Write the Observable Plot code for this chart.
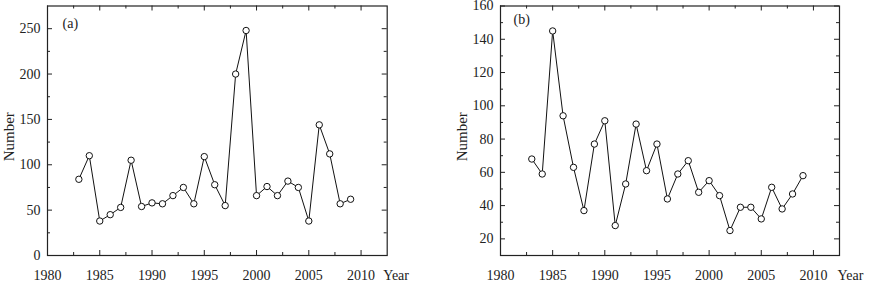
<!DOCTYPE html>
<html><head><meta charset="utf-8">
<script src="https://cdn.jsdelivr.net/npm/d3@7"></script>
<script src="https://cdn.jsdelivr.net/npm/@observablehq/plot@0.6"></script>
<style>
body{margin:0;background:#fff}
#wrap{display:flex;width:873px;height:288px}
svg{overflow:visible}
</style>
</head><body><div id="wrap"></div>
<script>
const years = [1983,1984,1985,1986,1987,1988,1989,1990,1991,1992,1993,1994,1995,1996,1997,1998,1999,2000,2001,2002,2003,2004,2005,2006,2007,2008,2009];
const valuesA = [84,110,38,45,53,105,54,58,57,66,75,57,109,78,55,200,248,66,76,66,82,75,38,144,112,57,62];
const valuesB = [68,59,145,94,63,37,77,91,28,53,89,61,77,44,59,67,48,55,46,25,39,39,32,51,38,47,58];
const xMajor = [1980,1985,1990,1995,2000,2005,2010];
const xMinor = [1982.5,1987.5,1992.5,1997.5,2002.5,2007.5];
const xDomain = [1980,2012.5];
const yMajorA = [0,50,100,150,200,250];
const yMinorA = [25,75,125,175,225];
const yDomainA = [0,275];
const yMajorB = [20,40,60,80,100,120,140,160];
const yMinorB = [10,30,50,70,90,110,130,150];
const yDomainB = [10,160];

const FONT = "'Liberation Serif','Times New Roman',serif";
const INK = "#222";

function panel(o){
  const h = 288, mt = 5.5, mb = 33;
  const ph = h - mt - mb, pw = o.w - o.ml - o.mr;
  const data = years.map((yr,i)=>({year: yr, value: o.values[i]}));
  const maj = 5, min = 3;
  return Plot.plot({
    width: o.w, height: h, marginLeft: o.ml, marginRight: o.mr, marginTop: mt, marginBottom: mb,
    style: {fontFamily: FONT, fontSize: "14px", color: INK, background: "transparent", overflow: "visible"},
    x: {domain: xDomain, label: null},
    y: {domain: o.yDomain, label: null},
    marks: [
      Plot.axisX(xMajor, {tickSize: 0, tickPadding: 15, tickFormat: d => String(d), fontSize: 14, label: null}),
      Plot.axisY(o.yMajor, {tickSize: 0, tickPadding: 7, tickFormat: d => String(d), fontSize: 14, label: null}),
      // bottom ticks (inward)
      Plot.tickX(xMajor, {x: d => d, insetTop: ph - maj, stroke: INK}),
      Plot.tickX(xMinor, {x: d => d, insetTop: ph - min, stroke: INK}),
      // top ticks (inward)
      Plot.tickX(xMajor, {x: d => d, insetBottom: ph - maj, stroke: INK}),
      Plot.tickX(xMinor, {x: d => d, insetBottom: ph - min, stroke: INK}),
      // left ticks
      Plot.tickY(o.yMajor, {y: d => d, insetRight: pw - maj, stroke: INK}),
      Plot.tickY(o.yMinor, {y: d => d, insetRight: pw - min, stroke: INK}),
      // right ticks
      Plot.tickY(o.yMajor, {y: d => d, insetLeft: pw - maj, stroke: INK}),
      Plot.tickY(o.yMinor, {y: d => d, insetLeft: pw - min, stroke: INK}),
      Plot.frame({stroke: INK, strokeWidth: 1.2}),
      Plot.line(data, {x: "year", y: "value", stroke: "#111", strokeWidth: 1}),
      Plot.dot(data, {x: "year", y: "value", r: 3.2, stroke: "#111", fill: "white", strokeWidth: 1}),
      Plot.text([o.tag], {text: d => d, frameAnchor: "top-left", textAnchor: "start", lineAnchor: "middle", dx: o.tagDx, dy: o.tagDy, fontSize: 14, fill: INK}),
      Plot.text(["Number"], {text: d => d, frameAnchor: "left", rotate: -90, textAnchor: "middle", lineAnchor: "middle", dx: o.numDx, dy: 6, fontSize: 15, fill: INK}),
      Plot.text(["Year"], {text: d => d, frameAnchor: "bottom-right", textAnchor: "start", lineAnchor: "middle", dx: o.yearDx, dy: 20, fontSize: 14, fill: INK})
    ]
  });
}

const wrap = document.getElementById("wrap");
wrap.appendChild(panel({w: 436, ml: 47, mr: 49.3, values: valuesA, yDomain: yDomainA, yMajor: yMajorA, yMinor: yMinorA, tag: "(a)", tagDx: 15, tagDy: 17.5, numDx: -38, yearDx: -4}));
wrap.appendChild(panel({w: 437, ml: 64, mr: 34, values: valuesB, yDomain: yDomainB, yMajor: yMajorB, yMinor: yMinorB, tag: "(b)", tagDx: 13, tagDy: 13.5, numDx: -38, yearDx: -2}));
</script>
</body></html>
